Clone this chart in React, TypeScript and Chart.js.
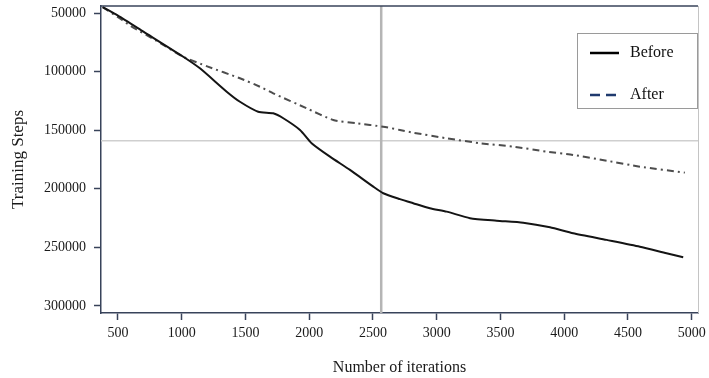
import React, { useEffect, useRef } from "react";
import { Chart, registerables } from "chart.js";

Chart.register(...registerables);

// ---- data ----
const xTickValues = [500, 1000, 1500, 2000, 2500, 3000, 3500, 4000, 4500, 5000];
const yTickValues = [50000, 100000, 150000, 200000, 250000, 300000];
const seriesLabels = ["Before", "After"];

const beforeIter = [380, 500, 700, 1012, 1143, 1353, 1457, 1600, 1718, 1797, 1928, 2019, 2163, 2320, 2503, 2581, 2712, 2816, 2947, 3078, 3261, 3470, 3679, 3889, 4071, 4333, 4594, 4803, 4934];
const beforeSteps = [45000, 52200, 65900, 87300, 97200, 117100, 125700, 134200, 135600, 139800, 149800, 161100, 172600, 183900, 198200, 203800, 208800, 212300, 216600, 219500, 225100, 227200, 228900, 232800, 237900, 243600, 249400, 255000, 258400];

const afterIter = [380, 500, 600, 800, 1012, 1200, 1457, 1614, 1718, 1980, 2189, 2372, 2581, 2712, 2816, 3078, 3340, 3601, 3862, 4071, 4333, 4594, 4947];
const afterSteps = [45000, 53500, 61000, 73500, 87300, 95500, 105700, 112900, 118500, 131300, 141300, 144100, 147000, 149800, 152100, 156900, 161100, 164000, 168300, 171100, 176000, 181100, 186200];

const refIteration = 2565;
const refSteps = 159000;

const FONT = "'Liberation Serif', 'Times New Roman', serif";
const AXIS_COLOR = "#38435a";

export default function App() {
  const canvasRef = useRef<HTMLCanvasElement | null>(null);

  useEffect(() => {
    const canvas = canvasRef.current;
    if (!canvas) return;

    const overlay = {
      id: "overlay",
      beforeDatasetsDraw(chart: any) {
        const { ctx, chartArea, scales } = chart;
        const x = scales.x;
        const y = scales.y;
        ctx.save();
        // horizontal reference line
        const hy = y.getPixelForValue(refSteps);
        ctx.strokeStyle = "#cfcfcf";
        ctx.lineWidth = 1.5;
        ctx.beginPath();
        ctx.moveTo(chartArea.left, hy);
        ctx.lineTo(chartArea.right, hy);
        ctx.stroke();
        // vertical reference line
        const vx = x.getPixelForValue(refIteration);
        ctx.strokeStyle = "#b5b5b5";
        ctx.lineWidth = 2.5;
        ctx.beginPath();
        ctx.moveTo(vx, chartArea.top);
        ctx.lineTo(vx, chartArea.bottom);
        ctx.stroke();
        ctx.restore();
      },
      afterDraw(chart: any) {
        const { ctx, chartArea } = chart;
        ctx.save();
        // top border
        ctx.strokeStyle = AXIS_COLOR;
        ctx.lineWidth = 1.5;
        ctx.beginPath();
        ctx.moveTo(chartArea.left, chartArea.top);
        ctx.lineTo(chartArea.right, chartArea.top);
        ctx.stroke();
        // right border
        ctx.strokeStyle = "#c4c4c4";
        ctx.lineWidth = 1;
        ctx.beginPath();
        ctx.moveTo(chartArea.right + 0.5, chartArea.top);
        ctx.lineTo(chartArea.right + 0.5, chartArea.bottom);
        ctx.stroke();

        // legend box
        const bw = 120;
        const bh = 75;
        const bx = chartArea.right - 1 - bw;
        const by = chartArea.top + 27;
        ctx.fillStyle = "#ffffff";
        ctx.fillRect(bx, by, bw, bh);
        ctx.strokeStyle = "#9a9a9a";
        ctx.lineWidth = 1;
        ctx.strokeRect(bx + 0.5, by + 0.5, bw, bh);

        const items = chart.data.datasets;
        const legendLine = [
          { color: "#000000", dash: [] as number[] },
          { color: "#1f3a6e", dash: [10, 6] },
        ];
        const rowY = [by + 20, by + 62];
        items.forEach((ds: any, i: number) => {
          const ly = rowY[i];
          ctx.strokeStyle = legendLine[i].color;
          ctx.lineWidth = 2.5;
          ctx.setLineDash(legendLine[i].dash);
          ctx.beginPath();
          ctx.moveTo(bx + 13, ly);
          ctx.lineTo(bx + 42, ly);
          ctx.stroke();
          ctx.setLineDash([]);
          ctx.fillStyle = "#111";
          ctx.font = `16px ${FONT}`;
          ctx.textBaseline = "middle";
          ctx.textAlign = "left";
          ctx.fillText(ds.label, bx + 53, ly);
        });
        ctx.restore();
      },
    };

    const chart = new Chart(canvas, {
      type: "line",
      data: {
        datasets: [
          {
            label: seriesLabels[0],
            data: beforeIter.map((v, i) => ({ x: v, y: beforeSteps[i] })),
            borderColor: "#141414",
            borderWidth: 2,
            pointRadius: 0,
            tension: 0.2,
            fill: false,
          },
          {
            label: seriesLabels[1],
            data: afterIter.map((v, i) => ({ x: v, y: afterSteps[i] })),
            borderColor: "#4d4d4d",
            borderWidth: 2,
            borderDash: [7, 4, 2, 4],
            pointRadius: 0,
            tension: 0.2,
            fill: false,
          },
        ],
      },
      options: {
        animation: false,
        responsive: true,
        maintainAspectRatio: false,
        layout: { padding: { top: 6, right: 11, left: 0, bottom: 0 } },
        plugins: {
          legend: { display: false },
          tooltip: { enabled: false },
        },
        scales: {
          x: {
            type: "linear",
            min: 367,
            max: 5050,
            afterBuildTicks: (scale: any) => {
              scale.ticks = xTickValues.map((v) => ({ value: v }));
            },
            afterFit: (scale: any) => {
              scale.height = 65;
              scale.paddingLeft = 0;
              scale.paddingRight = 0;
            },
            grid: {
              drawOnChartArea: false,
              drawTicks: true,
              tickLength: 7,
              tickWidth: 1.5,
              tickColor: AXIS_COLOR,
            },
            border: { display: true, color: AXIS_COLOR, width: 1.5 },
            ticks: {
              padding: 5,
              color: "#1a1a1a",
              font: { family: FONT, size: 14 },
              maxRotation: 0,
              autoSkip: false,
              callback: (v: any) => String(v),
            },
            title: {
              display: true,
              text: "Number of iterations",
              color: "#1a1a1a",
              font: { family: FONT, size: 16 },
              padding: { top: 0, bottom: 1 },
            },
          },
          y: {
            type: "linear",
            reverse: true,
            min: 44000,
            max: 306000,
            afterBuildTicks: (scale: any) => {
              scale.ticks = yTickValues.map((v) => ({ value: v }));
            },
            afterFit: (scale: any) => {
              scale.width = 101;
              scale.paddingTop = 0;
              scale.paddingBottom = 0;
            },
            grid: {
              drawOnChartArea: false,
              drawTicks: true,
              tickLength: 7,
              tickWidth: 1.5,
              tickColor: AXIS_COLOR,
            },
            border: { display: true, color: AXIS_COLOR, width: 1.5 },
            ticks: {
              padding: 8,
              color: "#1a1a1a",
              font: { family: FONT, size: 14 },
              autoSkip: false,
              callback: (v: any) => String(v),
            },
            title: {
              display: true,
              text: "Training Steps",
              color: "#1a1a1a",
              font: { family: FONT, size: 17 },
              padding: { top: 8, bottom: 0 },
            },
          },
        },
      },
      plugins: [overlay],
    });

    return () => chart.destroy();
  }, []);

  return (
    <div style={{ position: "fixed", left: 0, top: 0, width: 709, height: 378, background: "#fff" }}>
      <canvas ref={canvasRef} />
    </div>
  );
}
